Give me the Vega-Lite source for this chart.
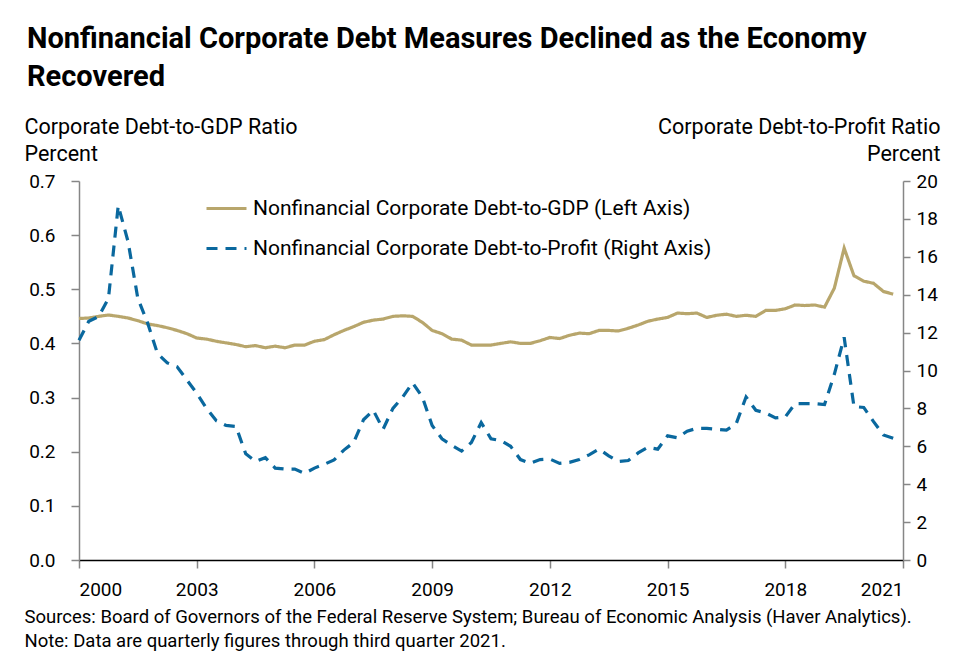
{
  "$schema": "https://vega.github.io/schema/vega-lite/v6.json",
  "width": 824,
  "height": 379,
  "autosize": "none",
  "padding": {"left": 79, "top": 181, "right": 53, "bottom": 93},
  "background": "white",
  "title": {
    "text": ["Nonfinancial Corporate Debt Measures Declined as the Economy", "Recovered"],
    "anchor": "start",
    "frame": "group",
    "fontSize": 29,
    "fontWeight": "bold",
    "color": "#000",
    "lineHeight": 38,
    "dx": -52,
    "dy": -24,
    "offset": 0
  },
  "data": {
    "values": [
      {"year": 2000, "gdp": 0.446, "profit": 11.6},
      {"year": 2000.25, "gdp": 0.447, "profit": 12.6},
      {"year": 2000.5, "gdp": 0.450, "profit": 12.85},
      {"year": 2000.75, "gdp": 0.4525, "profit": 13.8},
      {"year": 2001, "gdp": 0.450, "profit": 18.7},
      {"year": 2001.25, "gdp": 0.447, "profit": 16.8},
      {"year": 2001.5, "gdp": 0.442, "profit": 13.8},
      {"year": 2001.75, "gdp": 0.436, "profit": 12.5},
      {"year": 2002, "gdp": 0.433, "profit": 10.9},
      {"year": 2002.25, "gdp": 0.429, "profit": 10.4},
      {"year": 2002.5, "gdp": 0.424, "profit": 10.2},
      {"year": 2002.75, "gdp": 0.418, "profit": 9.5},
      {"year": 2003, "gdp": 0.410, "profit": 8.8},
      {"year": 2003.25, "gdp": 0.408, "profit": 8.0},
      {"year": 2003.5, "gdp": 0.404, "profit": 7.35},
      {"year": 2003.75, "gdp": 0.401, "profit": 7.1},
      {"year": 2004, "gdp": 0.398, "profit": 7.05},
      {"year": 2004.25, "gdp": 0.394, "profit": 5.6},
      {"year": 2004.5, "gdp": 0.396, "profit": 5.2},
      {"year": 2004.75, "gdp": 0.392, "profit": 5.4},
      {"year": 2005, "gdp": 0.395, "profit": 4.85},
      {"year": 2005.25, "gdp": 0.392, "profit": 4.8},
      {"year": 2005.5, "gdp": 0.397, "profit": 4.8},
      {"year": 2005.75, "gdp": 0.397, "profit": 4.57},
      {"year": 2006, "gdp": 0.404, "profit": 4.85},
      {"year": 2006.25, "gdp": 0.407, "profit": 5.05},
      {"year": 2006.5, "gdp": 0.416, "profit": 5.28},
      {"year": 2006.75, "gdp": 0.424, "profit": 5.8},
      {"year": 2007, "gdp": 0.431, "profit": 6.2},
      {"year": 2007.25, "gdp": 0.439, "profit": 7.4},
      {"year": 2007.5, "gdp": 0.443, "profit": 7.9},
      {"year": 2007.75, "gdp": 0.445, "profit": 6.9},
      {"year": 2008, "gdp": 0.450, "profit": 8.0},
      {"year": 2008.25, "gdp": 0.451, "profit": 8.6},
      {"year": 2008.5, "gdp": 0.450, "profit": 9.35},
      {"year": 2008.75, "gdp": 0.439, "profit": 8.6},
      {"year": 2009, "gdp": 0.424, "profit": 7.1},
      {"year": 2009.25, "gdp": 0.418, "profit": 6.4},
      {"year": 2009.5, "gdp": 0.408, "profit": 6.05},
      {"year": 2009.75, "gdp": 0.406, "profit": 5.75},
      {"year": 2010, "gdp": 0.397, "profit": 6.2},
      {"year": 2010.25, "gdp": 0.397, "profit": 7.25},
      {"year": 2010.5, "gdp": 0.397, "profit": 6.4},
      {"year": 2010.75, "gdp": 0.400, "profit": 6.3},
      {"year": 2011, "gdp": 0.403, "profit": 6.0},
      {"year": 2011.25, "gdp": 0.400, "profit": 5.3},
      {"year": 2011.5, "gdp": 0.400, "profit": 5.1},
      {"year": 2011.75, "gdp": 0.405, "profit": 5.3},
      {"year": 2012, "gdp": 0.411, "profit": 5.33},
      {"year": 2012.25, "gdp": 0.409, "profit": 5.1},
      {"year": 2012.5, "gdp": 0.415, "profit": 5.15},
      {"year": 2012.75, "gdp": 0.419, "profit": 5.3},
      {"year": 2013, "gdp": 0.418, "profit": 5.55},
      {"year": 2013.25, "gdp": 0.424, "profit": 5.85},
      {"year": 2013.5, "gdp": 0.424, "profit": 5.5},
      {"year": 2013.75, "gdp": 0.423, "profit": 5.2},
      {"year": 2014, "gdp": 0.428, "profit": 5.25},
      {"year": 2014.25, "gdp": 0.434, "profit": 5.65},
      {"year": 2014.5, "gdp": 0.441, "profit": 5.95},
      {"year": 2014.75, "gdp": 0.445, "profit": 5.85},
      {"year": 2015, "gdp": 0.448, "profit": 6.55},
      {"year": 2015.25, "gdp": 0.456, "profit": 6.45},
      {"year": 2015.5, "gdp": 0.455, "profit": 6.8},
      {"year": 2015.75, "gdp": 0.456, "profit": 6.95},
      {"year": 2016, "gdp": 0.448, "profit": 6.95},
      {"year": 2016.25, "gdp": 0.452, "profit": 6.9},
      {"year": 2016.5, "gdp": 0.454, "profit": 6.85},
      {"year": 2016.75, "gdp": 0.450, "profit": 7.2},
      {"year": 2017, "gdp": 0.452, "profit": 8.6},
      {"year": 2017.25, "gdp": 0.450, "profit": 7.9},
      {"year": 2017.5, "gdp": 0.461, "profit": 7.76},
      {"year": 2017.75, "gdp": 0.461, "profit": 7.5},
      {"year": 2018, "gdp": 0.464, "profit": 7.55},
      {"year": 2018.25, "gdp": 0.471, "profit": 8.25},
      {"year": 2018.5, "gdp": 0.470, "profit": 8.25},
      {"year": 2018.75, "gdp": 0.471, "profit": 8.25},
      {"year": 2019, "gdp": 0.467, "profit": 8.2},
      {"year": 2019.25, "gdp": 0.502, "profit": 9.8},
      {"year": 2019.5, "gdp": 0.576, "profit": 11.75},
      {"year": 2019.75, "gdp": 0.525, "profit": 8.1},
      {"year": 2020, "gdp": 0.515, "profit": 8.05},
      {"year": 2020.25, "gdp": 0.511, "profit": 7.3},
      {"year": 2020.5, "gdp": 0.496, "profit": 6.6},
      {"year": 2020.75, "gdp": 0.491, "profit": 6.42}
    ]
  },
  "encoding": {
    "x": {
      "field": "year",
      "type": "quantitative",
      "scale": {"domain": [2000, 2021], "nice": false, "zero": false},
      "axis": {
        "values": [2000, 2003, 2006, 2009, 2012, 2015, 2018, 2021],
        "format": "d",
        "domainColor": "#000",
        "domainWidth": 1.5,
        "tickColor": "#868686",
        "tickWidth": 1.5,
        "tickSize": 8,
        "labelPadding": 12,
        "title": ["Sources: Board of Governors of the Federal Reserve System; Bureau of Economic Analysis (Haver Analytics).", "Note: Data are quarterly figures through third quarter 2021."],
        "titleFontSize": 18.5,
        "titleLineHeight": 24,
        "titleAlign": "left",
        "titleAnchor": "start",
        "titleBaseline": "alphabetic",
        "titleX": -55,
        "titleY": 62
      }
    }
  },
  "layer": [
    {
      "mark": {"type": "line", "strokeWidth": 3.2},
      "encoding": {
        "y": {
          "field": "gdp",
          "type": "quantitative",
          "scale": {"domain": [0, 0.7], "nice": false},
          "axis": {
            "orient": "left",
            "values": [0, 0.1, 0.2, 0.3, 0.4, 0.5, 0.6, 0.7],
            "format": ".1f",
            "domainColor": "#868686",
            "domainWidth": 1.5,
            "tickColor": "#868686",
            "tickWidth": 1.5,
            "tickSize": 8,
            "labelPadding": 16,
            "title": ["Corporate Debt-to-GDP Ratio", "Percent"],
            "titleAngle": 0,
            "titleAlign": "left",
            "titleBaseline": "alphabetic",
            "titleLineHeight": 27,
            "titleX": -55,
            "titleY": -48
          }
        },
        "color": {
          "datum": "Nonfinancial Corporate Debt-to-GDP (Left Axis)",
          "type": "nominal",
          "scale": {"domain": ["Nonfinancial Corporate Debt-to-GDP (Left Axis)", "Nonfinancial Corporate Debt-to-Profit (Right Axis)"], "range": ["#B8A66C", "#0A689E"]},
          "legend": {"title": null}
        },
        "strokeDash": {
          "datum": "Nonfinancial Corporate Debt-to-GDP (Left Axis)",
          "type": "nominal",
          "scale": {"domain": ["Nonfinancial Corporate Debt-to-GDP (Left Axis)", "Nonfinancial Corporate Debt-to-Profit (Right Axis)"], "range": [[1, 0], [11, 8]]},
          "legend": {"title": null}
        }
      }
    },
    {
      "mark": {"type": "line", "strokeWidth": 3.2},
      "encoding": {
        "y": {
          "field": "profit",
          "type": "quantitative",
          "scale": {"domain": [0, 20], "nice": false},
          "axis": {
            "orient": "right",
            "values": [0, 2, 4, 6, 8, 10, 12, 14, 16, 18, 20],
            "format": "d",
            "domainColor": "#868686",
            "domainWidth": 1.5,
            "tickColor": "#868686",
            "tickWidth": 1.5,
            "tickSize": 7,
            "labelPadding": 6,
            "title": ["Corporate Debt-to-Profit Ratio", "Percent"],
            "titleAngle": 0,
            "titleAlign": "right",
            "titleBaseline": "alphabetic",
            "titleLineHeight": 27,
            "titleX": 37,
            "titleY": -48
          }
        },
        "color": {
          "datum": "Nonfinancial Corporate Debt-to-Profit (Right Axis)",
          "type": "nominal"
        },
        "strokeDash": {
          "datum": "Nonfinancial Corporate Debt-to-Profit (Right Axis)",
          "type": "nominal"
        }
      }
    }
  ],
  "resolve": {"scale": {"y": "independent"}},
  "config": {
    "font": "Roboto",
    "view": {"stroke": null},
    "axis": {"grid": false, "labelFontSize": 19, "labelColor": "#000", "titleColor": "#000", "titleFontWeight": "normal", "titleFontSize": 21.5},
    "legend": {
      "orient": "none",
      "legendX": 126,
      "legendY": 6,
      "symbolType": "stroke",
      "symbolSize": 1600,
      "symbolStrokeWidth": 3,
      "labelFontSize": 21,
      "labelColor": "#000",
      "labelOffset": 5,
      "rowPadding": 8,
      "labelLimit": 700
    }
  }
}
